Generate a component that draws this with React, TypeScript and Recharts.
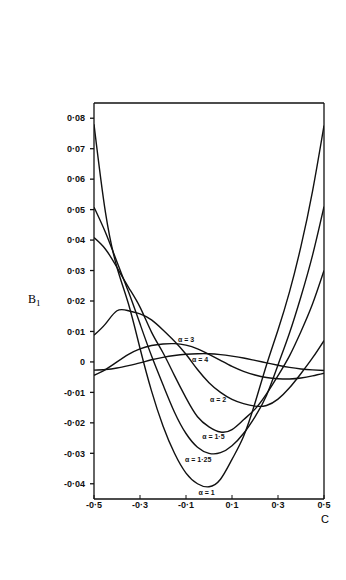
import React from 'react';
import { LineChart, Line, XAxis, YAxis, ReferenceLine, ReferenceDot } from 'recharts';

// C values along the abscissa
const cValues = [
    -0.5, -0.45, -0.4, -0.35, -0.3, -0.25, -0.2, -0.15, -0.1, -0.05, 0,
    0.05, 0.1, 0.15, 0.2, 0.25, 0.3, 0.35, 0.4, 0.45, 0.5,
];

// B1, one array per alpha
const alpha1 = [
    0.078, 0.049, 0.031, 0.019, 0.0045, -0.0095, -0.021, -0.030, -0.0365, -0.040, -0.041,
    -0.0385, -0.032, -0.0245, -0.0135, -0.001, 0.0105, 0.023, 0.038, 0.056, 0.0776,
];
const alpha125 = [
    0.0508, 0.0425, 0.0328, 0.023, 0.0125, 0.002, -0.0075, -0.0165, -0.0235, -0.028, -0.030,
    -0.0298, -0.0275, -0.0235, -0.018, -0.011, -0.001, 0.0095, 0.0215, 0.035, 0.051,
];
const alpha15 = [
    0.0408, 0.037, 0.031, 0.0245, 0.018, 0.0098, 0.003, -0.0045, -0.0118, -0.018, -0.0213,
    -0.023, -0.0222, -0.019, -0.0155, -0.0105, -0.0045, 0.002, 0.010, 0.019, 0.030,
];
const alpha2 = [
    0.0088, 0.0125, 0.0168, 0.0168, 0.0158, 0.0138, 0.0105, 0.0068, 0.0025, -0.0025, -0.0068,
    -0.010, -0.0123, -0.0137, -0.0145, -0.0143, -0.0122, -0.0085, -0.0038, 0.0013, 0.007,
];
const alpha3 = [
    -0.0044, -0.0025, 0.0, 0.0025, 0.0043, 0.0054, 0.0059, 0.006, 0.0055, 0.0043, 0.0025,
    0.0005, -0.0015, -0.0031, -0.0043, -0.0051, -0.0055, -0.0056, -0.0053, -0.0046, -0.0037,
];
const alpha4 = [
    -0.0027, -0.0025, -0.002, -0.0012, -0.0003, 0.0007, 0.0015, 0.0021, 0.0025, 0.0027, 0.0027,
    0.0024, 0.0019, 0.0013, 0.0005, -0.0003, -0.0011, -0.0018, -0.0023, -0.0026, -0.0028,
];

const xTicks = [-0.5, -0.3, -0.1, 0.1, 0.3, 0.5];
const yTicks = [-0.04, -0.03, -0.02, -0.01, 0, 0.01, 0.02, 0.03, 0.04, 0.05, 0.06, 0.07, 0.08];

// curve annotations (text + anchor in data units)
const curveLabels = [
    { text: 'α = 3', c: -0.1, b: 0.0073 },
    { text: 'α = 4', c: -0.039, b: 0.0008 },
    { text: 'α = 2', c: 0.04, b: -0.0123 },
    { text: 'α = 1·5', c: 0.019, b: -0.0246 },
    { text: 'α = 1·25', c: -0.047, b: -0.032 },
    { text: 'α = 1', c: -0.01, b: -0.043 },
];

const data = cValues.map((c, i) => ({
    c,
    a1: alpha1[i],
    a125: alpha125[i],
    a15: alpha15[i],
    a2: alpha2[i],
    a3: alpha3[i],
    a4: alpha4[i],
}));

const fmt = (v: number) => {
    if (v === 0) return '0';
    const s = Math.abs(v).toString().replace('.', '·');
    return v < 0 ? '-' + s : s;
};

const tickFont = { fontFamily: '"Liberation Sans", Arial, sans-serif', fontWeight: 'bold' as const };

const XTick = (props: any) => {
    const { x, y, payload } = props;
    return (
        <g>
            <line x1={x} x2={x} y1={y - 6} y2={y - 10} stroke="#111" strokeWidth={1} />
            <text x={x} y={y} dy="0.35em" textAnchor="middle" fontSize={9} fill="#111" {...tickFont}>
                {fmt(payload.value)}
            </text>
        </g>
    );
};

const series = ['a1', 'a125', 'a15', 'a2', 'a3', 'a4'];

const App: React.FC = () => {
    return (
        <div style={{ position: 'absolute', left: 0, top: 0, width: 346, height: 580, background: '#fff' }}>
            <LineChart width={346} height={580} data={data} margin={{ top: 103, right: 22, left: 34, bottom: 51 }}>
                <XAxis
                    dataKey="c"
                    type="number"
                    domain={[-0.5, 0.5]}
                    ticks={xTicks}
                    tick={<XTick />}
                    tickLine={false}
                    tickSize={4}
                    tickMargin={2}
                    height={30}
                    stroke="#111"
                    strokeWidth={1.3}
                    allowDataOverflow
                />
                <YAxis
                    type="number"
                    domain={[-0.045, 0.085]}
                    ticks={yTicks}
                    tickFormatter={fmt}
                    tick={{ fontSize: 9, fill: '#111', ...tickFont }}
                    tickSize={4}
                    tickMargin={5}
                    width={60}
                    stroke="#111"
                    strokeWidth={1.3}
                    allowDataOverflow
                />
                <ReferenceLine y={0.085} stroke="#111" strokeWidth={1.3} />
                <ReferenceLine x={0.5} stroke="#111" strokeWidth={1.3} />
                {series.map((k) => (
                    <Line
                        key={k}
                        type="natural"
                        dataKey={k}
                        stroke="#111"
                        strokeWidth={1.4}
                        dot={false}
                        isAnimationActive={false}
                    />
                ))}
                {curveLabels.map((l) => (
                    <ReferenceDot
                        key={l.text}
                        x={l.c}
                        y={l.b}
                        r={0}
                        fill="none"
                        stroke="none"
                        label={{ value: l.text, position: 'center', fontSize: 7, fill: '#111', ...tickFont }}
                    />
                ))}
            </LineChart>
            <div style={{ position: 'absolute', left: 28, top: 292, fontFamily: '"Liberation Serif", serif', fontSize: 12, color: '#000' }}>
                B<sub style={{ fontSize: 9 }}>1</sub>
            </div>
            <div style={{ position: 'absolute', left: 321, top: 513, fontFamily: '"Liberation Sans", sans-serif', fontSize: 11, color: '#000' }}>
                C
            </div>
        </div>
    );
};

export default App;
